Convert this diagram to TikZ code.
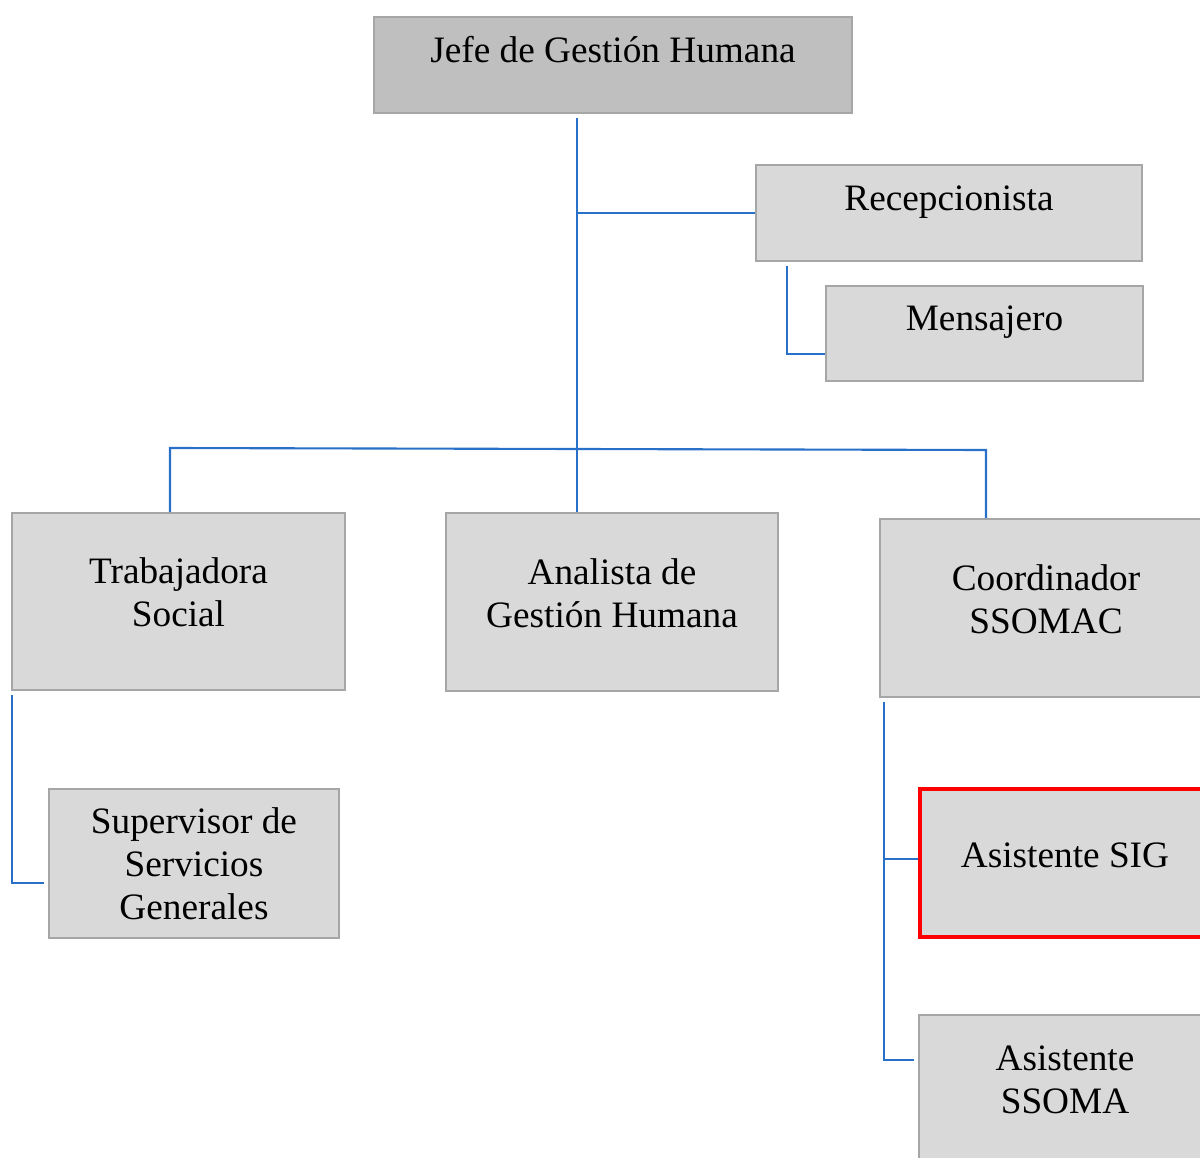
\documentclass[tikz,border=0pt]{standalone}
\usepackage{fontspec}
\setmainfont{Liberation Serif}
\usetikzlibrary{positioning, calc}
\definecolor{boxfill}{HTML}{D9D9D9}
\definecolor{topfill}{HTML}{BFBFBF}
\definecolor{boxline}{HTML}{A6A6A6}
\definecolor{linkblue}{RGB}{40,112,200}

\begin{document}
\begin{tikzpicture}[x=0.01cm, y=-0.01cm,
    every node/.style={align=center},
    box/.style={draw=boxline, line width=0.4pt, fill=boxfill, inner sep=0pt},
    txt/.style={font=\fontsize{10.6}{12.3}\selectfont, align=center},
    link/.style={draw=linkblue, line width=0.6pt}]
    \clip (0,0) rectangle (1200,1158);
    \fill[white] (0,0) rectangle (1200,1158);
    % boxes
    \node[box, fill=topfill, minimum width=4.78cm, minimum height=0.96cm, label={[txt, yshift=0.15cm]center:Jefe de Gestión Humana}] (jefe) at (613,65) {};
    \node[box, minimum width=3.86cm, minimum height=0.96cm, label={[txt, yshift=0.11cm]center:Recepcionista}] (recep) at (949,213) {};
    \node[box, minimum width=3.17cm, minimum height=0.95cm, label={[txt, yshift=0.11cm]center:Mensajero}] (mensajero) at (984.5,333.5) {};
    \node[box, minimum width=3.33cm, minimum height=1.77cm, label={[txt, yshift=0.09cm]center:Trabajadora\\Social}] (trabajadora) at (178.5,601.5) {};
    \node[box, minimum width=3.32cm, minimum height=1.78cm, label={[txt, yshift=0.09cm]center:Analista de\\Gestión Humana}] (analista) at (612,602) {};
    \node[box, minimum width=3.32cm, minimum height=1.78cm, label={[txt, yshift=0.09cm]center:Coordinador\\SSOMAC}] (coord) at (1046,608) {};
    \node[box, minimum width=2.90cm, minimum height=1.49cm, label={[txt]center:Supervisor de\\Servicios\\Generales}] (supervisor) at (194,863.5) {};
    \node[box, draw=red, line width=1pt, minimum width=2.90cm, minimum height=1.48cm, label={[txt, yshift=0.08cm]center:Asistente SIG}] (sig) at (1065,863) {};
    \node[box, minimum width=2.92cm, minimum height=1.50cm, label={[txt, yshift=0.1cm]center:Asistente\\SSOMA}] (ssoma) at (1065,1090) {};

    % connectors
    \coordinate (trunk) at (577,118);
    \coordinate (busL) at (170,448);
    \coordinate (busR) at (986,450);
    \draw[link] (trunk) -- (analista.north -| trunk);
    \draw[link] (recep.west) -- (recep.west -| trunk);
    \coordinate (rbranch) at (787,266);
    \draw[link] (rbranch) |- ([yshift=-0.205cm]mensajero.west);
    \draw[link] (trabajadora.north -| busL) -- (busL) -- (busR) -- (coord.north -| busR);
    \coordinate (tbranch) at (12,695);
    \draw[link] (tbranch) |- ([xshift=-0.04cm, yshift=-0.195cm]supervisor.west);
    \coordinate (cbranch) at (884,702);
    \draw[link] (cbranch) |- ([yshift=0.04cm]sig.west);
    \draw[link] (cbranch) |- ([xshift=-0.04cm, yshift=0.3cm]ssoma.west);
\end{tikzpicture}
\end{document}
